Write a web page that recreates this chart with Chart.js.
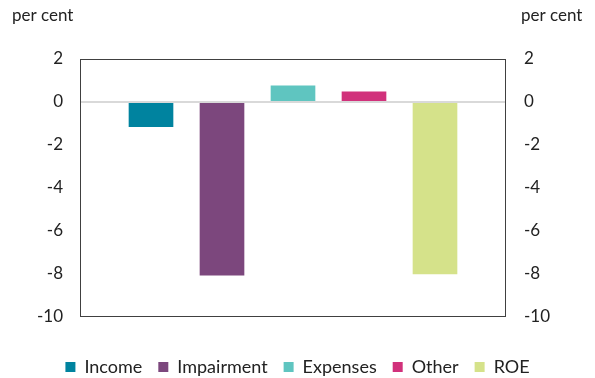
<!DOCTYPE html>
<html>
<head>
<meta charset="utf-8">
<script src="https://cdn.jsdelivr.net/npm/chart.js@4"></script>
<style>
  html, body { margin: 0; padding: 0; background: #fff; }
  #wrap { width: 595px; height: 378px; position: relative; }
</style>
</head>
<body>
<div id="wrap"><canvas id="chart" width="595" height="378"></canvas></div>
<script>
// Series, one bar each
const categories = ['Income', 'Impairment', 'Expenses', 'Other', 'ROE'];
const values = [-1.15, -8.05, 0.75, 0.47, -8.0];
const colours = ['#00839f', '#7c477d', '#5fc5c0', '#d1317b', '#d5e28a'];

// empty slot on each side so bars sit between the box edges
const slots = ['', ...categories, ''];

const datasets = categories.map((name, i) => ({
    label: name,
    data: slots.map((s, j) => (j === i + 1 ? values[i] : null)),
    backgroundColor: colours[i],
    grouped: false,
    barThickness: 44
}));

const fontFamily = 'Lato, "Open Sans", sans-serif';

// "per cent" over each axis, box round the plot, zero line
const extras = {
    id: 'extras',
    afterDatasetsDraw(chart) {
        const { ctx, chartArea: a, scales } = chart;
        ctx.save();
        const y0 = scales.y.getPixelForValue(0);
        ctx.strokeStyle = '#d9d9d9';
        ctx.lineWidth = 2;
        ctx.beginPath();
        ctx.moveTo(a.left, y0);
        ctx.lineTo(a.right, y0);
        ctx.stroke();

        ctx.strokeStyle = '#404040';
        ctx.lineWidth = 1;
        ctx.strokeRect(a.left + 0.5, a.top + 0.5, a.right - a.left - 1, a.bottom - a.top - 1);

        ctx.fillStyle = '#222';
        ctx.font = '17px ' + fontFamily;
        ctx.textBaseline = 'middle';
        ctx.textAlign = 'left';
        ctx.fillText('per cent', 12, 16);
        ctx.fillText('per cent', 521, 16);
        ctx.restore();
    }
};

new Chart(document.getElementById('chart'), {
    type: 'bar',
    data: { labels: slots, datasets },
    options: {
        responsive: false,
        animation: false,
        layout: { padding: { top: 59, bottom: -8 } },
        scales: {
            x: {
                offset: false,
                grid: { display: false },
                border: { display: false },
                ticks: { display: false },
                afterFit: s => { s.height = 25; }
            },
            y: {
                position: 'left',
                min: -10, max: 2,
                grid: { display: false },
                border: { display: false },
                ticks: { stepSize: 2, color: '#222', font: { size: 17, family: fontFamily }, padding: 9 },
                afterFit: s => { s.width = 80; }
            },
            y2: {
                position: 'right',
                min: -10, max: 2,
                grid: { display: false },
                border: { display: false },
                ticks: { stepSize: 2, color: '#222', font: { size: 17, family: fontFamily }, padding: 10 },
                afterFit: s => { s.width = 89; }
            }
        },
        plugins: {
            legend: {
                position: 'bottom',
                labels: {
                    boxWidth: 10, boxHeight: 10,
                    color: '#222',
                    font: { size: 18, family: fontFamily },
                    padding: 16
                }
            },
            tooltip: { enabled: false }
        }
    },
    plugins: [extras]
});
</script>
</body>
</html>
